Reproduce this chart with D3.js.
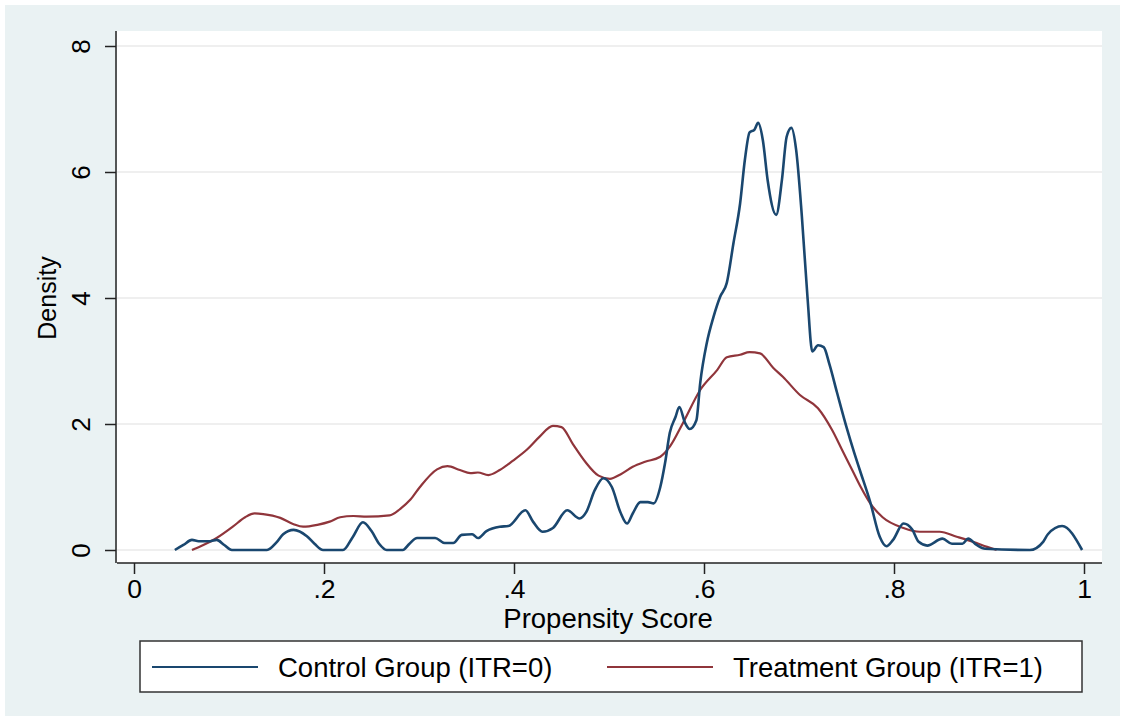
<!DOCTYPE html>
<html>
<head>
<meta charset="utf-8">
<script src="https://cdn.jsdelivr.net/npm/d3@7"></script>
<style>
  body { margin: 0; background: #fff; }
  svg text { font-family: "Liberation Sans", Arial, sans-serif; fill: #000; }
</style>
</head>
<body>
<div id="viz"></div>
<script>
"use strict";
// kernel density estimates: [propensity score, density]
const controlGroup = [
  [0.043,0],[0.052,0.08],[0.061,0.16],[0.068,0.14],[0.08,0.14],[0.087,0.16],[0.095,0.08],[0.103,0],
  [0.14,0],[0.15,0.12],[0.157,0.25],[0.168,0.32],[0.182,0.22],[0.19,0.1],[0.199,0],
  [0.22,0],[0.23,0.2],[0.241,0.44],[0.25,0.3],[0.258,0.1],[0.266,0],
  [0.283,0],[0.29,0.1],[0.298,0.19],[0.317,0.19],[0.327,0.11],[0.336,0.11],[0.345,0.24],[0.356,0.25],
  [0.362,0.19],[0.371,0.3],[0.385,0.37],[0.394,0.38],[0.412,0.63],[0.42,0.45],[0.43,0.29],[0.441,0.35],
  [0.456,0.63],[0.469,0.5],[0.476,0.6],[0.485,0.95],[0.494,1.14],[0.503,1.0],[0.512,0.6],[0.519,0.42],
  [0.525,0.58],[0.533,0.76],[0.541,0.76],[0.547,0.74],[0.554,1.0],[0.559,1.38],[0.564,1.86],[0.57,2.11],
  [0.574,2.27],[0.58,2.02],[0.585,1.92],[0.592,2.06],[0.596,2.65],[0.603,3.29],[0.61,3.7],[0.617,4.02],
  [0.624,4.24],[0.631,4.87],[0.638,5.5],[0.643,6.19],[0.648,6.63],[0.653,6.67],[0.657,6.78],[0.662,6.5],
  [0.667,5.87],[0.676,5.32],[0.682,5.87],[0.687,6.56],[0.692,6.7],[0.697,6.35],[0.703,5.3],[0.709,4.0],
  [0.714,3.15],[0.72,3.25],[0.726,3.22],[0.732,2.95],[0.74,2.5],[0.75,1.95],[0.758,1.55],[0.764,1.27],
  [0.775,0.76],[0.785,0.21],[0.792,0.06],[0.799,0.16],[0.81,0.42],[0.819,0.33],[0.826,0.13],[0.835,0.07],
  [0.851,0.18],[0.861,0.1],[0.872,0.1],[0.878,0.18],[0.887,0.08],[0.896,0.02],[0.943,0],[0.957,0.13],
  [0.962,0.25],[0.977,0.38],[0.998,0]
]
const treatmentGroup = [
  [0.061,0],[0.073,0.08],[0.087,0.19],[0.104,0.37],[0.117,0.52],[0.127,0.58],[0.136,0.57],[0.154,0.51],
  [0.168,0.41],[0.178,0.37],[0.193,0.4],[0.206,0.45],[0.217,0.52],[0.231,0.54],[0.245,0.53],[0.269,0.55],
  [0.28,0.65],[0.291,0.8],[0.301,1.0],[0.319,1.28],[0.33,1.33],[0.343,1.27],[0.354,1.22],[0.362,1.23],
  [0.373,1.19],[0.385,1.27],[0.399,1.42],[0.414,1.6],[0.427,1.8],[0.441,1.97],[0.45,1.95],[0.462,1.68],
  [0.475,1.4],[0.489,1.18],[0.501,1.13],[0.512,1.2],[0.525,1.32],[0.538,1.4],[0.554,1.48],[0.564,1.64],
  [0.578,2.02],[0.596,2.54],[0.614,2.86],[0.624,3.06],[0.638,3.1],[0.648,3.14],[0.659,3.12],[0.673,2.89],
  [0.683,2.75],[0.701,2.46],[0.72,2.25],[0.735,1.9],[0.745,1.6],[0.756,1.27],[0.765,1.0],[0.775,0.74],
  [0.788,0.52],[0.81,0.35],[0.827,0.29],[0.848,0.29],[0.866,0.21],[0.883,0.13],[0.898,0.05],[0.908,0]
]
const xTicks = [0, 0.2, 0.4, 0.6, 0.8, 1]
const xTickLabels = ["0", ".2", ".4", ".6", ".8", "1"]
const yTicks = [0, 2, 4, 6, 8]
const seriesNames = ["Control Group (ITR=0)", "Treatment Group (ITR=1)"]
const seriesColors = ["#1a476f", "#90353b"]

const m = { width: 1125, height: 721 }
const plot = { left: 117, right: 1102, top: 31, bottom: 563 }

const svg = d3.select("#viz").append("svg")
    .attr("width", m.width)
    .attr("height", m.height)

svg.append("rect")
    .attr("x", 5).attr("y", 5)
    .attr("width", m.width - 10).attr("height", m.height - 10)
    .attr("fill", "#eaf2f3")

svg.append("rect")
    .attr("x", plot.left).attr("y", plot.top)
    .attr("width", plot.right - plot.left).attr("height", plot.bottom - plot.top)
    .attr("fill", "#fff")

const x = d3.scaleLinear().domain([0, 1]).range([134, 1084])
const y = d3.scaleLinear().domain([0, 8]).range([550, 46])

// gridlines
svg.append("g").selectAll("line")
    .data(yTicks)
    .enter().append("line")
    .attr("x1", plot.left).attr("x2", plot.right)
    .attr("y1", d => y(d)).attr("y2", d => y(d))
    .attr("stroke", "#eaeaea")
    .attr("stroke-width", 1.5)

// y axis
const yAxis = svg.append("g")
    .attr("transform", "translate(" + (plot.left - 1) + ",0)")
    .call(d3.axisLeft(y).tickValues(yTicks).tickSize(11).tickPadding(12).tickSizeOuter(0))
yAxis.select(".domain").attr("d", "M0," + plot.top + "V" + plot.bottom)
    .attr("stroke", "#222").attr("stroke-width", 1.5)
yAxis.selectAll(".tick line").attr("stroke", "#222").attr("stroke-width", 1.5)
yAxis.selectAll(".tick text")
    .attr("font-size", 26)
    .attr("font-family", "Liberation Sans, Arial, sans-serif")
    .attr("fill", "#000")
    .attr("text-anchor", "middle")
    .attr("dy", null)
    .attr("x", null)
    .attr("transform", "translate(-35,0) rotate(-90)")
    .attr("dominant-baseline", "central")

// x axis
const xAxis = svg.append("g")
    .attr("transform", "translate(0," + plot.bottom + ")")
    .call(d3.axisBottom(x).tickValues(xTicks).tickFormat((d, i) => xTickLabels[i])
      .tickSize(11).tickPadding(5).tickSizeOuter(0))
xAxis.select(".domain").attr("d", "M" + plot.left + ",0H" + plot.right)
    .attr("stroke", "#222").attr("stroke-width", 1.5)
xAxis.selectAll(".tick line").attr("stroke", "#222").attr("stroke-width", 1.5)
xAxis.selectAll(".tick text")
    .attr("font-size", 26.5)
    .attr("font-family", "Liberation Sans, Arial, sans-serif")
    .attr("fill", "#000")

// axis titles
svg.append("text")
    .attr("transform", "translate(56,298) rotate(-90)")
    .attr("text-anchor", "middle")
    .attr("font-size", 25)
    .text("Density")
svg.append("text")
    .attr("x", 608).attr("y", 628)
    .attr("text-anchor", "middle")
    .attr("font-size", 27.5)
    .text("Propensity Score")

// density lines
const line = d3.line()
    .x(d => x(d[0]))
    .y(d => y(d[1]))
    .curve(d3.curveMonotoneX)
svg.append("path")
    .datum(treatmentGroup)
    .attr("d", line)
    .attr("fill", "none")
    .attr("stroke", seriesColors[1])
    .attr("stroke-width", 2.2)
svg.append("path")
    .datum(controlGroup)
    .attr("d", line)
    .attr("fill", "none")
    .attr("stroke", seriesColors[0])
    .attr("stroke-width", 2.6)

// legend
const legend = svg.append("g")
legend.append("rect")
    .attr("x", 140).attr("y", 641)
    .attr("width", 942).attr("height", 51)
    .attr("fill", "#fff")
    .attr("stroke", "#333")
    .attr("stroke-width", 1.5)
const legendX = [152, 607]
seriesNames.forEach(function(name, i) {
  legend.append("line")
      .attr("x1", legendX[i]).attr("x2", legendX[i] + 106)
      .attr("y1", 667).attr("y2", 667)
      .attr("stroke", seriesColors[i])
      .attr("stroke-width", 2.2)
  legend.append("text")
      .attr("x", legendX[i] + 126).attr("y", 677)
      .attr("font-size", 27.5)
      .text(name)
})
</script>
</body>
</html>
